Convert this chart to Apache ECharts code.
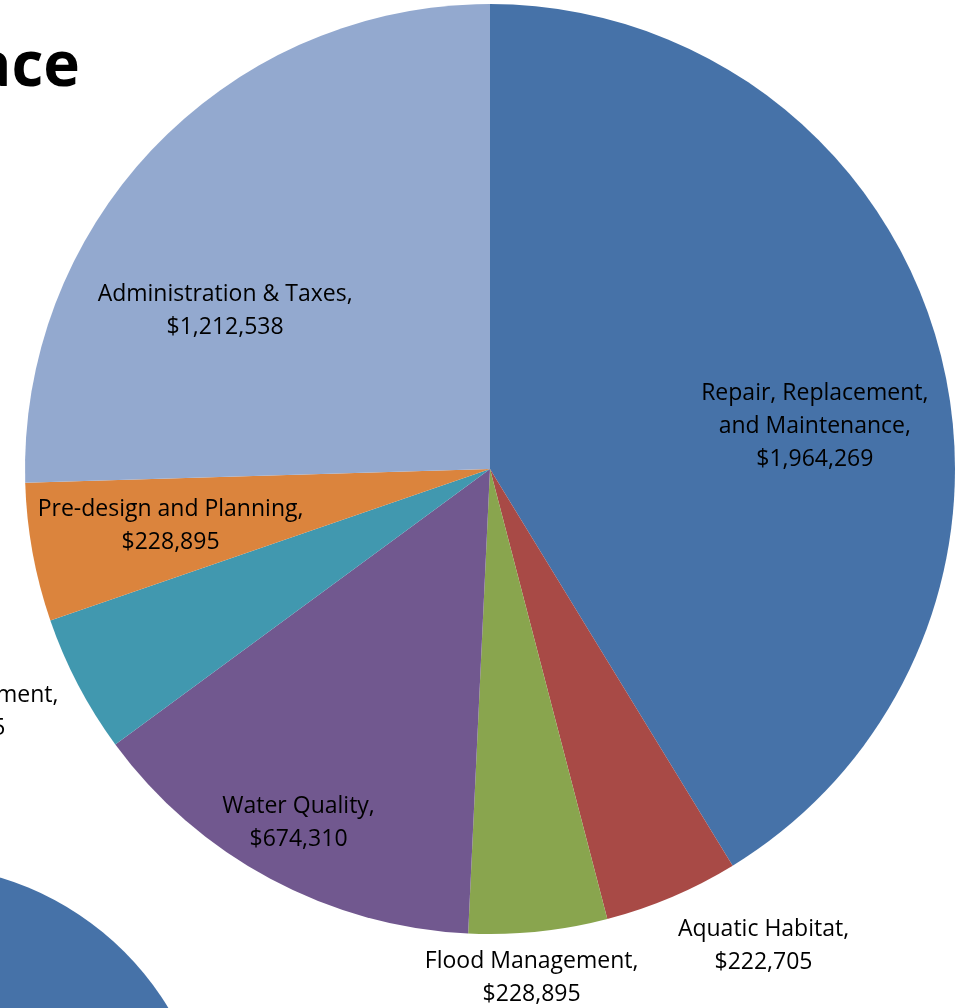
<!DOCTYPE html>
<html>
<head>
<meta charset="utf-8">
<script src="https://cdn.jsdelivr.net/npm/echarts@6/dist/echarts.min.js"></script>
<style>
  html, body { margin: 0; padding: 0; background: #ffffff; }
  #chart { width: 968px; height: 1008px; }
</style>
</head>
<body>
<div id="chart"></div>
<script>
// Budget split by program area
const categories = [
  'Repair, Replacement,\nand Maintenance',
  'Aquatic Habitat',
  'Flood Management',
  'Water Quality',
  'Lake Management',
  'Pre-design and Planning',
  'Administration & Taxes'
];
const amounts = [1964269, 222705, 228895, 674310, 228895, 228895, 1212538];
const sliceColors = ['#4672A8', '#A84A46', '#89A54E', '#71588F', '#4198AF', '#DB843D', '#93A9CF'];

// label anchors: [distance from pie centre, angle clockwise from 12 o'clock]
const labelAnchors = [
  [328, 82], [547, 150], [508, 175.3], [400, 208.6],
  [585, 245.8], [324, 260.4], [310, 301.3]
];

const CX = 490, CY = 469, R = 465;
const fmt = v => '$' + v.toLocaleString('en-US');

const chart = echarts.init(document.getElementById('chart'), null, { renderer: 'canvas' });

chart.setOption({
  backgroundColor: '#ffffff',
  animation: false,
  graphic: [
    {
      type: 'circle',
      shape: { cx: -85, cy: 1161, r: 296 },
      style: { fill: '#4672A8' },
      z: 1
    },
    {
      type: 'text',
      style: {
        x: 80, y: 68,
        text: 'Surface',
        font: 'bold 62px "Open Sans", sans-serif',
        fill: '#000000',
        textAlign: 'right',
        textVerticalAlign: 'middle'
      },
      z: 1
    }
  ],
  series: [{
    type: 'pie',
    center: [CX, CY],
    radius: R,
    startAngle: 90,
    clockwise: true,
    avoidLabelOverlap: false,
    data: categories.map((name, i) => ({
      name: name,
      value: amounts[i],
      itemStyle: { color: sliceColors[i] }
    })),
    itemStyle: { borderWidth: 0 },
    emphasis: { disabled: true },
    label: {
      show: true,
      position: 'inside',
      formatter: p => p.name + ',\n' + fmt(p.value),
      color: '#000000',
      fontFamily: '"Open Sans", sans-serif',
      fontSize: 23,
      lineHeight: 33,
      align: 'center'
    },
    labelLine: { show: false },
    labelLayout: function (params) {
      const a = labelAnchors[params.dataIndex];
      const t = a[1] * Math.PI / 180;
      return {
        x: CX + a[0] * Math.sin(t),
        y: CY - a[0] * Math.cos(t) + 3,
        align: 'center',
        verticalAlign: 'middle'
      };
    }
  }]
});
</script>
</body>
</html>
